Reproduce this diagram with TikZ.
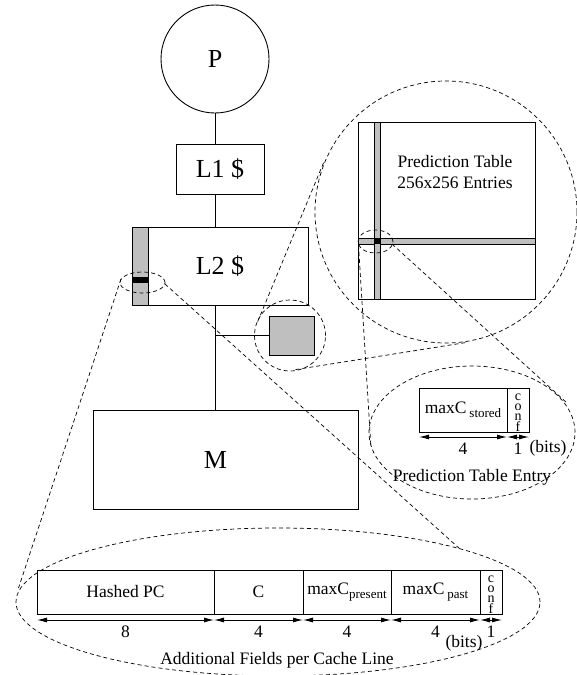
\documentclass[tikz,border=0pt]{standalone}
\usepackage{fontspec}
\setmainfont{Liberation Serif}
\usetikzlibrary{arrows.meta,shapes.geometric}
\definecolor{fillgray}{RGB}{191,191,191}
\newcommand\mysub[1]{\raisebox{-4.5pt}{\fontsize{13}{13}\selectfont #1}}
\newcommand\confstack{\raisebox{-2.5pt}{\shortstack{}}}
\begin{document}
\begin{tikzpicture}[x=1pt,y=-1pt,
  solidline/.style={line width=0.9pt},
  bigfont/.style={font=\fontsize{26}{30}\selectfont},
  smallfont/.style={font=\fontsize{17.5}{21}\selectfont},
  unit/.style={draw, line width=0.9pt, rectangle, inner sep=0pt, outer sep=0pt},
  field/.style={draw, line width=0.9pt, rectangle, inner sep=0pt, outer sep=0pt, minimum height=44pt, anchor=west, font=\fontsize{17.5}{21}\selectfont},
  conffield/.style={field, minimum width=22pt},
  conftext/.style={font=\fontsize{14}{10.2}\selectfont, align=center, inner sep=0pt},
  zoomring/.style={draw, dash pattern=on 4pt off 3pt, line width=0.7pt, ellipse, inner sep=0pt},
  zoomline/.style={dash pattern=on 4pt off 3pt, line width=0.7pt},
  dimarrow/.style={line width=0.9pt, {Latex[length=10pt,width=5pt]}-{Latex[length=10pt,width=5pt]}},
  bitlabel/.style={font=\fontsize{17.5}{21}\selectfont, yshift=-11.5pt}
]
\useasboundingbox (0,0) rectangle (577,675);

% processor and caches
\node[circle, draw, line width=0.9pt, minimum size=108pt, inner sep=0pt, bigfont] (P) at (215,59) {P};
\node[unit, minimum width=88pt, minimum height=50pt, bigfont] (L1) at (220,169) {L1 \$};
\node[unit, minimum width=176pt, minimum height=78pt, bigfont] (L2) at (220,266) {L2 \$};
\node[unit, fill=fillgray, minimum width=16pt, minimum height=78pt, anchor=north west] (strip) at (L2.north west) {};
\node[fill=black, minimum width=16pt, minimum height=6pt, inner sep=0pt, anchor=west] (band) at (132,280) {};
\node[unit, minimum width=265pt, minimum height=99pt, bigfont] (M) at (225.5,459.5) {\hspace*{-20pt}M};
\node[unit, fill=fillgray, minimum width=45pt, minimum height=39pt] (sq) at (291.5,335.5) {};

\draw[solidline] (P.south) -- (P.south |- L1.north);
\draw[solidline] (P.south |- L1.south) -- (P.south |- L2.north);
\draw[solidline] (P.south |- L2.south) -- (P.south |- M.north);
\draw[solidline] (P.south |- sq.west) -- (sq.west);

% prediction table
\node[unit, minimum width=177pt, minimum height=177pt] (tab) at (446.5,210.5) {};
\node[unit, fill=fillgray, minimum width=177pt, minimum height=6pt, anchor=west] (hrow) at (358,241) {};
\node[unit, fill=fillgray, minimum width=6pt, minimum height=177pt, anchor=north] (vcol) at (377,122) {};
\node[fill=black, minimum size=6pt, inner sep=0pt] (cell) at (377,241) {};
\node[smallfont, align=center] (tabtext) at (455,172) {Prediction Table\\256x256 Entries};

% prediction table entry
\node[field, minimum width=88pt] (stored) at (419,410) {maxC\,\mysub{stored}};
\node[conffield] (econf) at (stored.east) {};
\node[conftext] (econft) at ([yshift=-2.5pt]econf.center) {c\\o\\n\\f};
\draw[dimarrow] ([yshift=-5pt]stored.south west) -- ([yshift=-5pt]stored.south east) node[midway, bitlabel] {4};
\draw[dimarrow] ([yshift=-5pt]econf.south west) -- ([yshift=-5pt]econf.south east) node[midway, bitlabel] {1};
\node[smallfont] (ebits) at (548,448) {(bits)};
\node[smallfont] (entrylabel) at (472,477) {Prediction Table Entry};

% additional fields per cache line
\node[field, minimum width=177pt] (hpc) at (37,592) {Hashed PC};
\node[field, minimum width=89pt] (fc) at (hpc.east) {C};
\node[field, minimum width=88pt] (fpres) at (fc.east) {maxC\mysub{present}};
\node[field, minimum width=89pt] (fpast) at (fpres.east) {maxC\,\mysub{past}};
\node[conffield] (fconf) at (fpast.east) {};
\node[conftext] (fconft) at ([yshift=-2.5pt]fconf.center) {c\\o\\n\\f};
\draw[dimarrow] ([yshift=-6pt]hpc.south west) -- ([yshift=-6pt]hpc.south east) node[midway, bitlabel] {8};
\draw[dimarrow] ([yshift=-6pt]fc.south west) -- ([yshift=-6pt]fc.south east) node[midway, bitlabel] {4};
\draw[dimarrow] ([yshift=-6pt]fpres.south west) -- ([yshift=-6pt]fpres.south east) node[midway, bitlabel] {4};
\draw[dimarrow] ([yshift=-6pt]fpast.south west) -- ([yshift=-6pt]fpast.south east) node[midway, bitlabel] {4};
\draw[dimarrow] ([yshift=-6pt]fconf.south west) -- ([yshift=-6pt]fconf.south east) node[midway, bitlabel] {1};
\node[smallfont] (fbits) at (464,643) {(bits)};
\node[smallfont] (flabel) at (277,660) {Additional Fields per Cache Line};

% zoom rings
\node[zoomring, minimum width=45pt, minimum height=21pt] (zL2) at (142.5,282.5) {};
\node[zoomring, minimum width=71pt, minimum height=71pt] (zsq) at (290,335.5) {};
\node[zoomring, minimum width=262pt, minimum height=262pt] (zbig) at (446,212) {};
\node[zoomring, minimum width=35pt, minimum height=23pt] (zcell) at (375.5,241.5) {};
\node[zoomring, minimum width=206pt, minimum height=133pt] (zentry) at (472,432.5) {};
\node[zoomring, minimum width=524pt, minimum height=148pt] (zfields) at (278,602) {};

% zoom lines
\coordinate (a1) at (121,279);
\coordinate (a2) at (18.5,588);
\coordinate (b1) at (165,284);
\coordinate (b2) at (460,549);
\coordinate (c1) at (257.7,321.6);
\coordinate (c2) at (324.1,161.4);
\coordinate (d1) at (295.5,369.6);
\coordinate (d2) at (466.7,342.4);
\coordinate (e1) at (358.5,245);
\coordinate (e2) at (370.8,445);
\coordinate (f1) at (392,244);
\coordinate (f2) at (567,403);
\draw[zoomline] (a1) -- (a2);
\draw[zoomline] (b1) -- (b2);
\draw[zoomline] (c1) -- (c2);
\draw[zoomline] (d1) -- (d2);
\draw[zoomline] (e1) -- (e2);
\draw[zoomline] (f1) -- (f2);
\end{tikzpicture}
\end{document}
